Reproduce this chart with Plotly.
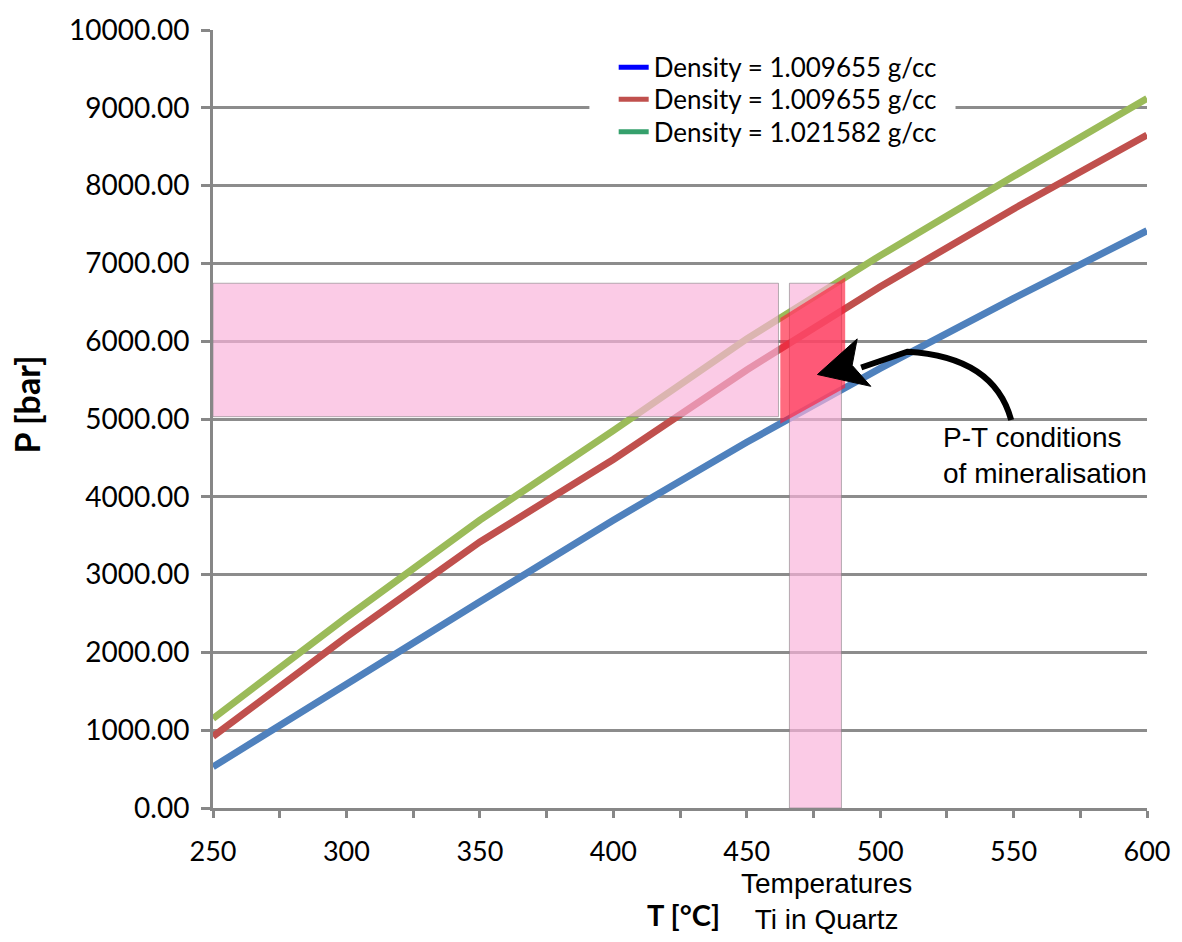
import numpy as np
import plotly.graph_objects as go

# ---- data ----
T = [250, 300, 350, 400, 450, 500, 550, 600]
P_blue = [530, 1600, 2650, 3700, 4700, 5650, 6550, 7420]
P_red = [920, 2200, 3420, 4480, 5630, 6700, 7700, 8650]
P_green = [1150, 2450, 3700, 4850, 6030, 7100, 8120, 9120]

legend_labels = ["Density = 1.009655 g/cc", "Density = 1.009655 g/cc", "Density = 1.021582 g/cc"]
legend_colors = ["#0000FF", "#C0504D", "#35A06C"]
line_colors = ["#4F81BD", "#C0504D", "#9BBB59"]

# highlighted P-T window
T_box = [462.6, 486.9]          # temperature range of red window
P_band = [5030, 6745]           # pressure band (horizontal pink)
T_band_h = [250, 461.9]
T_band_v = [466.0, 485.5]

# arrow geometry (data coords)
arrow_tail = (549.1, 4987)
arrow_ctrl = (542.7, 5801)
arrow_mid = (510.2, 5865)
arrow_neck = (492.9, 5662)
arrow_head = [(476.5, 5572), (491.4, 6030), (489.5, 5690), (496.5, 5420)]

fig = go.Figure()

for P, c in zip([P_blue, P_red, P_green], line_colors):
    fig.add_trace(go.Scatter(x=T, y=P, mode="lines", line=dict(color=c, width=7),
                             showlegend=False, hoverinfo="skip"))

legend_ids = ["legend", "legend2", "legend3"]
legend_ys = [0.952, 0.911, 0.869]
for lab, c, lid in zip(legend_labels, legend_colors, legend_ids):
    fig.add_trace(go.Scatter(x=[None], y=[None], mode="lines", name=lab, legend=lid,
                             line=dict(color=c, width=5)))

pink = "rgba(249,178,218,0.68)"
edge = dict(color="rgba(120,120,120,0.55)", width=1)
fig.add_shape(type="rect", x0=T_band_h[0], x1=T_band_h[1], y0=P_band[0], y1=P_band[1],
              fillcolor=pink, line=edge, layer="above")
fig.add_shape(type="rect", x0=T_band_v[0], x1=T_band_v[1], y0=0, y1=P_band[1],
              fillcolor=pink, line=edge, layer="above")

# red window between blue and green curves
g1, g2 = np.interp(T_box, T, P_green)
b1, b2 = np.interp(T_box, T, P_blue)
red_path = (f"M {T_box[0]},{g1} L {T_box[1]},{g2} L {T_box[1]},{b2} "
            f"L {T_box[0]},{b1} Z")
fig.add_shape(type="path", path=red_path, fillcolor="rgba(255,30,60,0.66)",
              line=dict(width=0), layer="above")

# white legend background box (covers grid lines)
fig.add_shape(type="rect", xref="paper", yref="paper", x0=0.403, x1=0.795, y0=0.845, y1=0.98,
              fillcolor="white", line=dict(width=0), layer="above")

# curved arrow
path = (f"M {arrow_tail[0]},{arrow_tail[1]} Q {arrow_ctrl[0]},{arrow_ctrl[1]} "
        f"{arrow_mid[0]},{arrow_mid[1]} L {arrow_neck[0]},{arrow_neck[1]}")
fig.add_shape(type="path", path=path, line=dict(color="black", width=6), layer="above")
hp = "M " + " L ".join(f"{x},{y}" for x, y in arrow_head) + " Z"
fig.add_shape(type="path", path=hp, fillcolor="black", line=dict(color="black", width=1),
              layer="above")

ann_font = dict(family="Liberation Sans, Arial", size=28, color="black")
fig.add_annotation(x=522.9, y=4529, xref="x", yref="y", text="P-T conditions<br>of mineralisation",
                   showarrow=False, font=ann_font, align="left", xanchor="left", yanchor="middle")
fig.add_annotation(x=0.657, y=-0.12, xref="paper", yref="paper", text="Temperatures<br>Ti in Quartz",
                   showarrow=False, font=ann_font, align="center", yanchor="middle")
fig.add_annotation(x=0.504, y=-0.137, xref="paper", yref="paper", text="<b>T [°C]</b>",
                   showarrow=False, yanchor="middle", font=dict(family="Lato", size=29, color="black"))
fig.add_annotation(x=-0.2, y=0.519, xref="paper", yref="paper", text="<b>P [bar]</b>",
                   showarrow=False, textangle=-90, xanchor="center", yanchor="middle",
                   font=dict(family="Lato", size=34, color="black"))

axis_col = "#878787"
fig.update_xaxes(range=[250, 600], tickvals=[250, 300, 350, 400, 450, 500, 550, 600],
                 ticks="outside", ticklen=7, tickwidth=3, tickcolor=axis_col,
                 minor=dict(dtick=25, ticks="outside", ticklen=7, tickwidth=3, tickcolor=axis_col),
                 showline=True, linecolor=axis_col, linewidth=3, showgrid=False, zeroline=False,
                 tickfont=dict(family="Lato", size=27, color="black"), ticklabelstandoff=11)
fig.update_yaxes(range=[0, 10000], dtick=1000, tickformat=".2f",
                 ticks="outside", ticklen=9, tickwidth=3, tickcolor=axis_col,
                 showline=True, linecolor=axis_col, linewidth=3,
                 showgrid=True, gridcolor="#8C8C8C", gridwidth=3, zeroline=False,
                 tickfont=dict(family="Lato", size=28, color="black"), ticklabelstandoff=6)

leg_common = dict(x=0.429, xanchor="left", yanchor="middle", bgcolor="rgba(0,0,0,0)",
                  borderwidth=0, font=dict(family="Lato", size=26, color="black"), itemwidth=30)
fig.update_layout(width=1182, height=942, margin=dict(l=213, r=34, t=22, b=134),
                  paper_bgcolor="white", plot_bgcolor="white",
                  legend=dict(y=legend_ys[0], **leg_common),
                  legend2=dict(y=legend_ys[1], **leg_common),
                  legend3=dict(y=legend_ys[2], **leg_common))

fig.write_html("out.html")
